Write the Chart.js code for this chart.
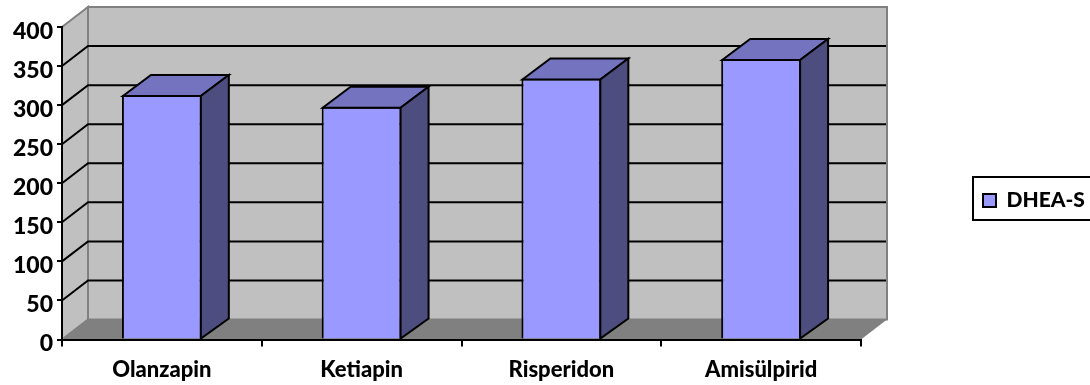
<!DOCTYPE html>
<html>
<head>
<meta charset="utf-8">
<title>DHEA-S</title>
<script src="https://cdn.jsdelivr.net/npm/chart.js@4"></script>
<style>
  body { margin: 0; background: #fff; }
  canvas { display: block; }
</style>
</head>
<body>
<canvas id="myChart" width="1090" height="385"></canvas>
<script>
const categories = ['Olanzapin', 'Ketiapin', 'Risperidon', 'Amisülpirid'];
const seriesName = 'DHEA-S';
const dheaValues = [313, 298, 334, 359];
const yMin = 0;
const yMax = 400;
const yStep = 50;

const fontFamily = 'Lato, "Open Sans", sans-serif';
const wallDepthX = 26;
const wallDepthY = 20;
const barDepthX = 28;
const barDepthY = 21;

// excel style 3d box: walls and floor go behind the scales, bar sides go on top of the bars
const box3d = {
  id: 'box3d',
  beforeDraw(chart) {
    const ctx = chart.ctx;
    const y = chart.scales.y;
    const { left, right, top, bottom } = chart.chartArea;
    const dx = wallDepthX;
    const dy = wallDepthY;

    ctx.save();
    ctx.lineWidth = 2;
    ctx.strokeStyle = '#808080';

    ctx.fillStyle = '#c0c0c0';
    ctx.fillRect(left + dx, top - dy, right - left, bottom - top);
    ctx.strokeRect(left + dx, top - dy, right - left, bottom - top);

    ctx.beginPath();
    ctx.moveTo(left, bottom);
    ctx.lineTo(left + dx, bottom - dy);
    ctx.lineTo(left + dx, top - dy);
    ctx.lineTo(left, top);
    ctx.closePath();
    ctx.fill();
    ctx.stroke();

    ctx.fillStyle = '#808080';
    ctx.beginPath();
    ctx.moveTo(left, bottom);
    ctx.lineTo(right, bottom);
    ctx.lineTo(right + dx, bottom - dy);
    ctx.lineTo(left + dx, bottom - dy);
    ctx.closePath();
    ctx.fill();

    ctx.strokeStyle = '#000';
    y.ticks.forEach((t) => {
      if (t.value === yMin || t.value === yMax) return;
      const py = y.getPixelForValue(t.value);
      ctx.beginPath();
      ctx.moveTo(left, py);
      ctx.lineTo(left + dx, py - dy);
      ctx.lineTo(right + dx - 1, py - dy);
      ctx.stroke();
    });
    ctx.restore();
  },
  afterLayout(chart) {
    // legend sits in the free space right of the plot
    const legend = chart.legend;
    legend.left = 973;
    legend.right = 1090;
    legend.top = 180;
    legend.bottom = 220;
  },
  afterDatasetsDraw(chart) {
    const ctx = chart.ctx;
    const dx = barDepthX;
    const dy = barDepthY;
    ctx.save();
    ctx.lineWidth = 2;
    ctx.strokeStyle = '#000';
    ctx.lineJoin = 'miter';
    chart.getDatasetMeta(0).data.forEach((bar) => {
      const l = bar.x - bar.width / 2 + 1;
      const r = bar.x + bar.width / 2 - 1;
      const t = bar.y + 1;
      const b = bar.base;

      ctx.fillStyle = '#7373bf';
      ctx.beginPath();
      ctx.moveTo(l, t);
      ctx.lineTo(l + dx, t - dy);
      ctx.lineTo(r + dx, t - dy);
      ctx.lineTo(r, t);
      ctx.closePath();
      ctx.fill();
      ctx.stroke();

      ctx.fillStyle = '#4d4d80';
      ctx.beginPath();
      ctx.moveTo(r, t);
      ctx.lineTo(r + dx, t - dy);
      ctx.lineTo(r + dx, b - wallDepthY);
      ctx.lineTo(r, b);
      ctx.closePath();
      ctx.fill();
      ctx.stroke();
    });
    ctx.restore();
  },
  afterDraw(chart) {
    const ctx = chart.ctx;
    const legend = chart.legend;
    ctx.save();
    ctx.lineWidth = 2;
    ctx.strokeStyle = '#000';
    ctx.strokeRect(legend.left, legend.top - 3, legend.right - legend.left + 4, legend.bottom - legend.top + 3);
    ctx.restore();
  }
};

const ctx = document.getElementById('myChart').getContext('2d');

const myChart = new Chart(ctx, {
  type: 'bar',
  data: {
    labels: categories,
    datasets: [{
      label: seriesName,
      data: dheaValues,
      backgroundColor: '#9999ff',
      borderColor: '#000',
      borderWidth: 2,
      categoryPercentage: 1,
      barPercentage: 0.4
    }]
  },
  options: {
    responsive: false,
    animation: false,
    layout: { padding: { top: 27, right: 229, left: 0, bottom: 0 } },
    plugins: {
      tooltip: { enabled: false },
      legend: {
        position: 'chartArea',
        align: 'start',
        labels: {
          boxWidth: 13,
          boxHeight: 13,
          padding: 10,
          color: '#000',
          font: { family: fontFamily, size: 21, weight: '900' }
        }
      }
    },
    scales: {
      x: {
        afterFit: (scale) => { scale.height = 45.5; },
        border: { color: '#000', width: 2 },
        grid: { drawOnChartArea: false, color: '#000', lineWidth: 2, tickLength: 7 },
        ticks: { color: '#000', padding: 10, maxRotation: 0, font: { family: fontFamily, size: 22, weight: '900' } }
      },
      y: {
        min: yMin,
        max: yMax,
        afterFit: (scale) => { scale.width = 62; },
        border: { color: '#000', width: 2 },
        grid: { drawOnChartArea: false, color: '#000', lineWidth: 2, tickLength: 5 },
        ticks: {
          stepSize: yStep,
          color: '#000',
          padding: 4,
          // labels sit a few px below their tick, the blank line with a short line height does that
          callback: (value) => ['', String(value)],
          font: { family: fontFamily, size: 23, weight: '900', lineHeight: '9px' }
        }
      }
    }
  },
  plugins: [box3d]
});
</script>
</body>
</html>
